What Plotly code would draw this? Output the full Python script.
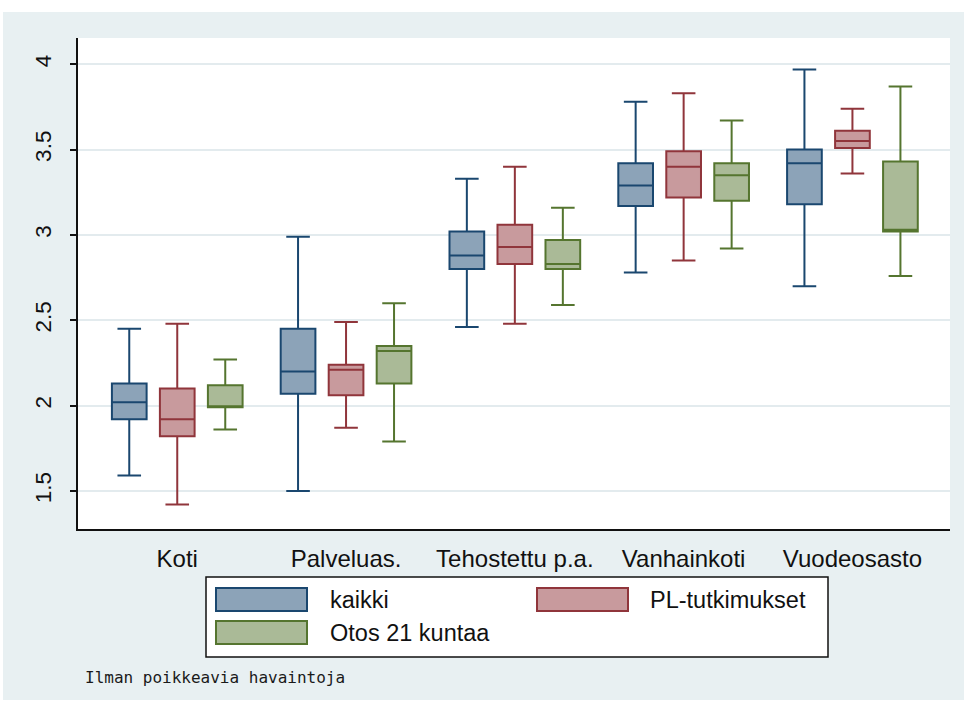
import plotly.graph_objects as go

# ---------------- data ----------------
categories = ["Koti", "Palveluas.", "Tehostettu p.a.", "Vanhainkoti", "Vuodeosasto"]
series_names = ["kaikki", "PL-tutkimukset", "Otos 21 kuntaa"]

kaikki_lower = [1.59, 1.50, 2.46, 2.78, 2.70]
kaikki_q1 = [1.92, 2.07, 2.80, 3.17, 3.18]
kaikki_median = [2.02, 2.20, 2.88, 3.29, 3.42]
kaikki_q3 = [2.13, 2.45, 3.02, 3.42, 3.50]
kaikki_upper = [2.45, 2.99, 3.33, 3.78, 3.97]

pl_lower = [1.42, 1.87, 2.48, 2.85, 3.36]
pl_q1 = [1.82, 2.06, 2.83, 3.22, 3.51]
pl_median = [1.92, 2.21, 2.93, 3.40, 3.55]
pl_q3 = [2.10, 2.24, 3.06, 3.49, 3.61]
pl_upper = [2.48, 2.49, 3.40, 3.83, 3.74]

otos_lower = [1.86, 1.79, 2.59, 2.92, 2.76]
otos_q1 = [1.99, 2.13, 2.80, 3.20, 3.02]
otos_median = [1.99, 2.32, 2.83, 3.35, 3.03]
otos_q3 = [2.12, 2.35, 2.97, 3.42, 3.43]
otos_upper = [2.27, 2.60, 3.16, 3.67, 3.87]

y_tickvals = [1.5, 2, 2.5, 3, 3.5, 4]
y_ticktext = ["1.5", "2", "2.5", "3", "3.5", "4"]
note_text = "Ilman poikkeavia havaintoja"

# ---------------- styling ----------------
line_colors = ["#1a476f", "#90353b", "#55752f"]
fill_colors = ["#8ca3b8", "#c89a9d", "#aaba97"]
BG = "#e8f0f2"
GRID = "#e3ebee"
FONT = "Liberation Sans, Arial, sans-serif"

W, H = 967, 708
L, R, T, B = 78, 17, 38, 179
PW = W - L - R
PH = H - T - B
PB = H - B


def px2x(px):
    return (px - L) / PW


def py2y(py):
    return (PB - py) / PH


stats = [
    (kaikki_lower, kaikki_q1, kaikki_median, kaikki_q3, kaikki_upper),
    (pl_lower, pl_q1, pl_median, pl_q3, pl_upper),
    (otos_lower, otos_q1, otos_median, otos_q3, otos_upper),
]

fig = go.Figure()
for i, (name, st) in enumerate(zip(series_names, stats)):
    lo, q1, med, q3, up = st
    fig.add_trace(go.Box(
        name=name,
        x=categories,
        q1=q1, median=med, q3=q3,
        lowerfence=lo, upperfence=up,
        boxpoints=False,
        fillcolor=fill_colors[i],
        line=dict(color=line_colors[i], width=2),
        whiskerwidth=0.68,
        showlegend=False,
        hoverinfo="skip",
    ))

shapes = []
# outer graph region
shapes.append(dict(type="rect", xref="paper", yref="paper", layer="below",
                   x0=px2x(3), x1=px2x(964), y0=py2y(700), y1=py2y(12),
                   fillcolor=BG, line=dict(width=0)))
# plot region
shapes.append(dict(type="rect", xref="paper", yref="paper", layer="below",
                   x0=0, x1=1, y0=0, y1=1,
                   fillcolor="white", line=dict(width=0)))
# legend frame
shapes.append(dict(type="rect", xref="paper", yref="paper", layer="above",
                   x0=px2x(206), x1=px2x(828), y0=py2y(657), y1=py2y(577),
                   fillcolor="white", line=dict(color="#111111", width=1.5)))

annotations = []
legend_pos = [(216, 588, 328), (537, 588, 648), (216, 621, 328)]
for i, name in enumerate(series_names):
    sx, sy, tx = legend_pos[i]
    shapes.append(dict(type="rect", xref="paper", yref="paper", layer="above",
                       x0=px2x(sx), x1=px2x(sx + 91), y0=py2y(sy + 23), y1=py2y(sy),
                       fillcolor=fill_colors[i], line=dict(color=line_colors[i], width=2)))
    annotations.append(dict(text=name, xref="paper", yref="paper",
                            x=px2x(tx), y=py2y(sy + 11.5), xanchor="left", yanchor="middle",
                            showarrow=False, font=dict(family=FONT, size=23.5, color="#111111")))

annotations.append(dict(text=note_text, xref="paper", yref="paper",
                        x=px2x(83), y=py2y(677), xanchor="left", yanchor="middle",
                        showarrow=False,
                        font=dict(family="DejaVu Sans Mono, monospace", size=16, color="#1a1a1a")))

fig.update_layout(
    width=W, height=H,
    margin=dict(l=L, r=R, t=T, b=B, pad=0),
    paper_bgcolor="white",
    plot_bgcolor="white",
    boxmode="group",
    boxgap=0.147,
    boxgroupgap=0.277,
    shapes=shapes,
    annotations=annotations,
    showlegend=False,
    font=dict(family=FONT, color="#111111"),
)

fig.update_xaxes(
    type="category",
    categoryorder="array", categoryarray=categories,
    range=[-0.588, 4.578],
    showline=True, linecolor="#111111", linewidth=1.5,
    ticks="", showgrid=False, zeroline=False,
    tickfont=dict(family=FONT, size=24, color="#111111"),
    ticklabelstandoff=7,
)

fig.update_yaxes(
    range=[1.277, 4.154],
    tickvals=y_tickvals, ticktext=y_ticktext,
    tickangle=-90,
    ticks="outside", ticklen=6, tickwidth=1.5, tickcolor="#111111",
    showline=True, linecolor="#111111", linewidth=1.5,
    showgrid=True, gridcolor=GRID, gridwidth=1.5,
    zeroline=False,
    tickfont=dict(family=FONT, size=22.5, color="#111111"),
    ticklabelstandoff=10,
)

fig.write_html("out.html", config={"displayModeBar": False},
               post_script="document.body.style.margin='0px';")
